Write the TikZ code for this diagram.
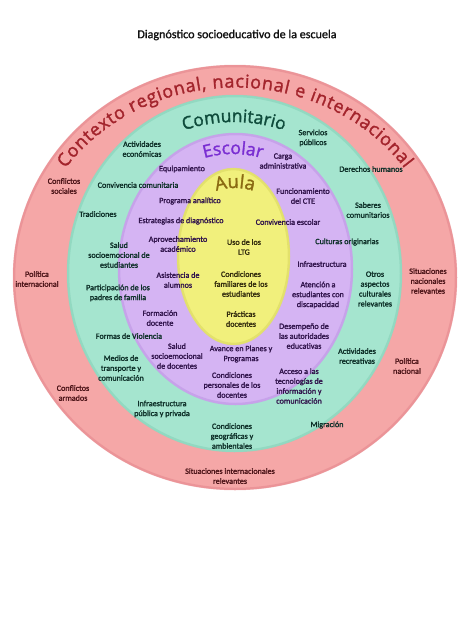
\documentclass[tikz,border=0pt]{standalone}
\usepackage{fontspec}
\usetikzlibrary{decorations.text}
\newfontfamily\lblfont[FakeBold=1.8]{Carlito}
\newfontfamily\titlefont[FakeBold=1.2]{Carlito}
\newfontfamily\arcfont[FakeBold=1.6]{Open Sans}
\definecolor{pinkF}{HTML}{F5A7A7}
\definecolor{pinkR}{HTML}{E4868C}
\definecolor{greenF}{HTML}{A5E5CF}
\definecolor{greenR}{HTML}{84D0B7}
\definecolor{purpF}{HTML}{D5B4F3}
\definecolor{purpR}{HTML}{BC95E4}
\definecolor{yelF}{HTML}{F1F07C}
\definecolor{yelR}{HTML}{D8D65E}
\definecolor{ctxT}{HTML}{A3242C}
\definecolor{comT}{HTML}{0E4B3B}
\definecolor{escT}{HTML}{7A2ED2}
\definecolor{aulT}{HTML}{8A6A12}
\definecolor{pinkL}{HTML}{4E161A}
\definecolor{greenL}{HTML}{0E3029}
\definecolor{purpL}{HTML}{32154D}
\definecolor{yelL}{HTML}{332C0E}
\definecolor{titleC}{HTML}{111111}
\begin{document}
\begin{tikzpicture}[x=1pt,y=1pt,
  lbl/.style={font=\lblfont\fontsize{8.1}{9.9}\selectfont, align=center, inner sep=0pt},
  pl/.style={lbl, text=pinkL},
  gl/.style={lbl, text=greenL},
  ul/.style={lbl, text=purpL},
  yl/.style={lbl, text=yelL},
  rim/.style={line width=2.5pt, opacity=0.55}]
\useasboundingbox (0,0) rectangle (474,-632);
\fill[white] (0,0) rectangle (474,-632);
\coordinate (cP) at (235,-277.5);
\coordinate (cG) at (234.5,-273.5);
\coordinate (cU) at (235.5,-269);
\coordinate (cY) at (233.5,-256.5);
% rings
\fill[pinkF] (cP) ellipse[x radius=222pt, y radius=212.5pt];
\draw[pinkR, rim] (cP) ellipse[x radius=221pt, y radius=211.5pt];
\fill[greenF] (cG) ellipse[x radius=167.5pt, y radius=178.5pt];
\draw[greenR, rim] (cG) ellipse[x radius=166.5pt, y radius=177.5pt];
\fill[purpF] (cU) ellipse[x radius=117.5pt, y radius=136pt];
\draw[purpR, rim] (cU) ellipse[x radius=116.5pt, y radius=135pt];
\fill[yelF] (cY) ellipse[x radius=56.5pt, y radius=88.5pt];
\draw[yelR, rim] (cY) ellipse[x radius=55.5pt, y radius=87.5pt];
% title
\node[font=\titlefont\fontsize{12.1}{14}\selectfont, text=titleC, inner sep=0pt] (title) at (237,-35) {Diagnóstico socioeducativo de la escuela};
% arc titles
\path[shift={(cP)}, decorate, decoration={text along path, text align=fit to path,
  text={|\arcfont\fontsize{18}{18}\selectfont\color{ctxT}|Contexto regional, nacional e internacional}}]
  (145:207pt and 190pt) arc[start angle=145, end angle=35, x radius=207pt, y radius=190pt];
\coordinate (cCom) at (234,-275);
\path[shift={(cCom)}, decorate, decoration={text along path, text align=center,
  text={|\arcfont\fontsize{17.5}{17.5}\selectfont\color{comT}|Comunitario}}]
  (125:153pt) arc[start angle=125, end angle=55, radius=153pt];
\coordinate (cEsc) at (233,-257);
\path[shift={(cEsc)}, decorate, decoration={text along path, text align=center,
  text={|\arcfont\fontsize{17.5}{17.5}\selectfont\color{escT}|Escolar}}]
  (135:103pt) arc[start angle=135, end angle=45, radius=103pt];
\coordinate (cAul) at (235,-248);
\path[shift={(cAul)}, decorate, decoration={text along path, text align=center,
  text={|\arcfont\fontsize{18.5}{18.5}\selectfont\color{aulT}|Aula}}]
  (150:60pt) arc[start angle=150, end angle=30, radius=60pt];
% pink labels
\node[pl] (cs) at (64,-186) {Conflictos\\sociales};
\node[pl] (pi) at (37,-279) {Política\\internacional};
\node[pl] (ca) at (73,-393) {Conflictos\\armados};
\node[pl] (sir) at (230,-476) {Situaciones internacionales\\relevantes};
\node[pl] (pn) at (407,-366) {Política\\nacional};
\node[pl] (snr) at (428,-281) {Situaciones\\nacionales\\relevantes};
% green labels
\node[gl] (ae) at (142,-149) {Actividades\\económicas};
\node[gl] (sp) at (313,-138) {Servicios\\públicos};
\node[gl] (dh) at (371,-169) {Derechos humanos};
\node[gl] (cc) at (138,-185) {Convivencia comunitaria};
\node[gl] (tr) at (98,-214) {Tradiciones};
\node[gl] (sc) at (368,-210) {Saberes\\comunitarios};
\node[gl] (sse) at (119,-255) {Salud\\socioemocional de\\estudiantes};
\node[gl] (co) at (347,-242) {Culturas originarias};
\node[gl] (ppf) at (118,-293) {Participación de los\\padres de familia};
\node[gl] (oac) at (375,-289) {Otros\\aspectos\\culturales\\relevantes};
\node[gl] (fv) at (129,-336) {Formas de Violencia};
\node[gl] (mtc) at (121,-368) {Medios de\\transporte y\\comunicación};
\node[gl] (ar) at (357,-356) {Actividades\\recreativas};
\node[gl] (ipp) at (162,-409) {Infraestructura\\pública y privada};
\node[gl] (cga) at (232,-436) {Condiciones\\geográficas y\\ambientales};
\node[gl] (mig) at (327,-425) {Migración};
% purple labels
\node[ul] (eq) at (182,-169) {Equipamiento};
\node[ul] (cad) at (283,-161) {Carga\\administrativa};
\node[ul] (pa) at (190,-201) {Programa analítico};
\node[ul] (fc) at (303,-196) {Funcionamiento\\del CTE};
\node[ul] (ed) at (181,-221) {Estrategias de diagnóstico};
\node[ul] (ce) at (288,-222) {Convivencia escolar};
\node[ul] (aa) at (178,-244) {Aprovechamiento\\académico};
\node[ul] (inf) at (322,-264) {Infraestructura};
\node[ul] (asa) at (178,-280) {Asistencia de\\alumnos};
\node[ul] (aed) at (318,-295) {Atención a\\estudiantes con\\discapacidad};
\node[ul] (fd) at (160,-318) {Formación\\docente};
\node[ul] (dae) at (304,-336) {Desempeño de\\las autoridades\\educativas};
\node[ul] (ssd) at (177,-356) {Salud\\socioemocional\\de docentes};
\node[ul] (app) at (241,-354) {Avance en Planes y\\Programas};
\node[ul] (cpd) at (232,-385) {Condiciones\\personales de los\\docentes};
\node[ul] (ati) at (299,-386) {Acceso a las\\tecnologías de\\información y\\comunicación};
% yellow labels
\node[yl] (ultg) at (244,-247) {Uso de los\\LTG};
\node[yl] (cfe) at (241,-284) {Condiciones\\familiares de los\\estudiantes};
\node[yl] (pd) at (241,-319) {Prácticas\\docentes};
\end{tikzpicture}
\end{document}
